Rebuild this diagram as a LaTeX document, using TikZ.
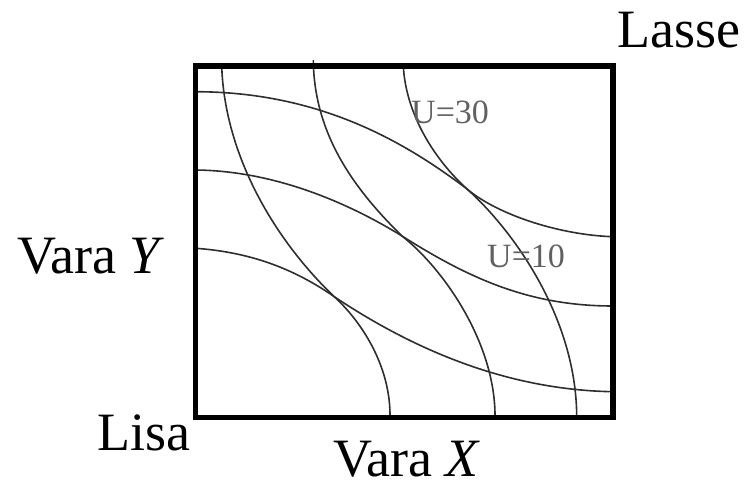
\documentclass[tikz,border=0pt]{standalone}
\usepackage{fontspec}
\setmainfont{Liberation Serif}
\begin{document}
\begin{tikzpicture}[x=1pt,y=-1pt,
  curve/.style={draw=black!82,line width=1.6pt},
  biglabel/.style={anchor=base west,inner sep=0pt,font=\fontsize{54}{60}\selectfont},
  ulabel/.style={anchor=base west,inner sep=0pt,text=black!62,font=\fontsize{34}{40}\selectfont}]
\useasboundingbox (0,0) rectangle (756,488);
% tangency points
\coordinate (t1) at (334,296.5);
\coordinate (t2) at (402,236);
\coordinate (t3) at (467,189);
% steep family
\draw[curve] (221.7,65) .. controls (224,150) and (270,235) .. (t1)
             .. controls (360,320) and (391,365) .. (390,418);
\draw[curve] (313.3,60) .. controls (314,135) and (355,190) .. (t2)
             .. controls (445,270) and (496,345) .. (495,418);
\draw[curve] (403.3,66) .. controls (406,115) and (435,160) .. (t3)
             .. controls (515,232) and (577,320) .. (576.7,418);
% flat family
\draw[curve] (196,91.7) .. controls (320,92) and (405,142) .. (t3)
             .. controls (498,215) and (560,235) .. (613,236.7);
\draw[curve] (196,170) .. controls (280,171) and (355,207) .. (t2)
             .. controls (470,279) and (530,306) .. (613,306);
\draw[curve] (196,248.3) .. controls (246,252) and (290,266) .. (t1)
             .. controls (420,354) and (513,390) .. (613,391.7);
% box
\draw[line width=5.5pt] (195.5,66) rectangle (613,417.5);
% labels
\node[biglabel] (lasse) at (617,47) {Lasse};
\node[biglabel] (varay) at (17,273) {Vara \textit{Y}};
\node[biglabel] (lisa) at (97,450) {Lisa};
\node[biglabel] (varax) at (333,476) {Vara \textit{X}};
\node[ulabel] (u30) at (411,123) {U=30};
\node[ulabel] (u10) at (487,267) {U=10};
\end{tikzpicture}
\end{document}
